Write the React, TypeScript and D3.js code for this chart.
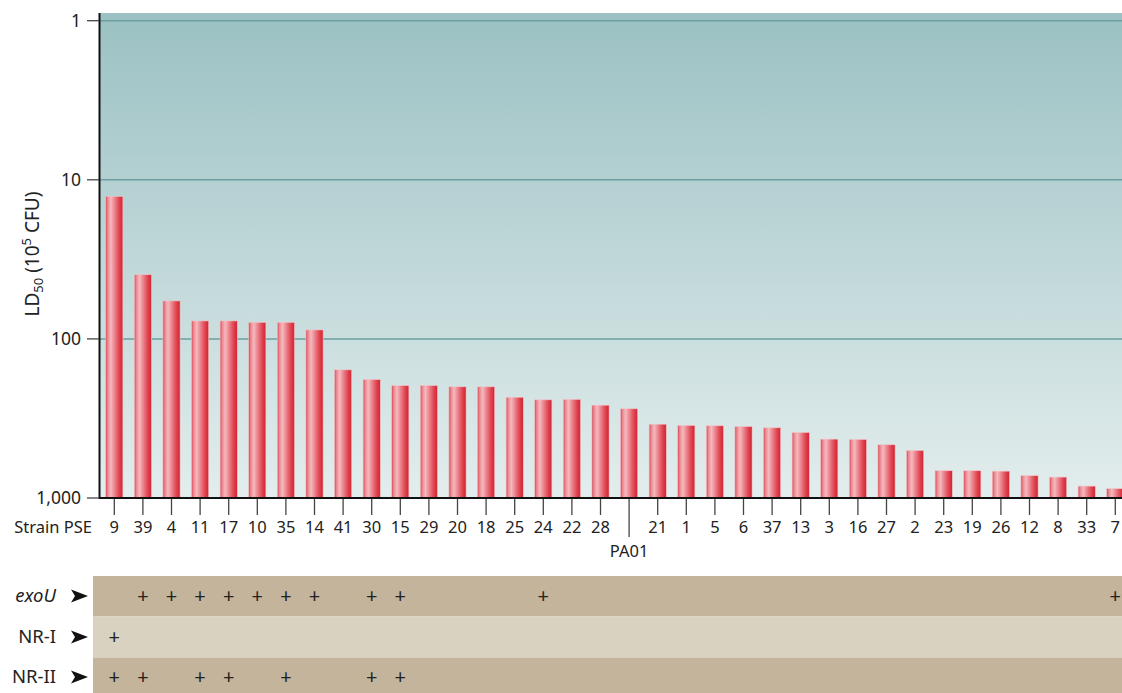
import React from "react";
import * as d3 from "d3";

const strains = ["9","39","4","11","17","10","35","14","41","30","15","29","20","18","25","24","22","28","PA01","21","1","5","6","37","13","3","16","27","2","23","19","26","12","8","33","7"];
const ld50 = [12.7,39.5,57.7,77.1,77.1,78.7,78.7,87.8,156.5,180,196.5,196.5,200,200,232.6,241.6,240,261,275,343.6,350,351.7,355.5,362,387.5,426.6,428.6,462.8,502.7,674,674,678,724,739,842,874];
const yTicks = [1, 10, 100, 1000];
const yTickLabels = ["1", "10", "100", "1,000"];
const exoU = ["39","4","11","17","10","35","14","30","15","24","7"];
const nrI = ["9"];
const nrII = ["9","39","11","17","35","30","15"];
const rowLabels = ["exoU", "NR-I", "NR-II"];
const rowMembers = [exoU, nrI, nrII];

const W = 1122, H = 693;
const FONT = "'Noto Sans', 'Open Sans', sans-serif";

export default function App() {
  const left = 100, baseY = 498, topY = 13;
  const x = d3.scaleBand<string>().domain(strains).range([left, left + 36 * 28.6]).paddingInner(0.4).paddingOuter(0.2);
  const y = d3.scaleLog().domain([1, 1000]).range([20.7, baseY]);
  const bw = x.bandwidth();
  const cx = (s: string) => (x(s) as number) + bw / 2;

  const rows = [
    { y0: 576, y1: 616.5, fill: "#c3b49b" },
    { y0: 616.5, y1: 657.5, fill: "#d9d2c0" },
    { y0: 657.5, y1: 693, fill: "#c3b49b" },
  ];
  const rowMid = [596, 637, 677];

  return (
    <svg width={W} height={H} style={{ position: "absolute", left: 0, top: 0, background: "#fff" }} fontFamily={FONT}>
      <defs>
        <linearGradient id="bg" x1="0" y1="0" x2="0" y2="1">
          <stop offset="0%" stopColor="#9bc1c3" />
          <stop offset="100%" stopColor="#e3eded" />
        </linearGradient>
        <linearGradient id="bar" x1="0" y1="0" x2="1" y2="0">
          <stop offset="0%" stopColor="#dc4451" />
          <stop offset="12%" stopColor="#ea8891" />
          <stop offset="30%" stopColor="#f5b9be" />
          <stop offset="50%" stopColor="#ec8790" />
          <stop offset="78%" stopColor="#df4552" />
          <stop offset="100%" stopColor="#d3222f" />
        </linearGradient>
      </defs>
      <rect x={left} y={topY} width={W - left} height={baseY - topY} fill="url(#bg)" />
      {yTicks.slice(0, 3).map((t) => (
        <line key={t} x1={left} x2={W} y1={y(t)} y2={y(t)} stroke="#6c9fa1" strokeWidth={1.5} />
      ))}
      {strains.map((s, i) => (
        <rect key={s} x={x(s) as number} y={y(ld50[i])} width={bw} height={baseY - y(ld50[i])}
          fill="url(#bar)" stroke="#f0c4c7" strokeWidth={0.6} />
      ))}
      <line x1={left - 0.5} x2={left - 0.5} y1={topY} y2={baseY + 1} stroke="#111" strokeWidth={2} />
      <line x1={left - 1} x2={W} y1={baseY} y2={baseY} stroke="#111" strokeWidth={2} />
      {yTicks.map((t, i) => (
        <g key={t}>
          <line x1={87} x2={left - 1} y1={y(t)} y2={y(t)} stroke="#444" strokeWidth={1.3} />
          <text x={81} y={y(t)} dy="0.35em" textAnchor="end" fontSize={17.5} fill="#222">{yTickLabels[i]}</text>
        </g>
      ))}
      <text transform={`translate(39,254) rotate(-90)`} textAnchor="middle" fontSize={19} fill="#222">
        LD<tspan fontSize={13} dy={4}>50</tspan><tspan dy={-4}> (10</tspan><tspan fontSize={13} dy={-8}>5</tspan><tspan dy={8}> CFU)</tspan>
      </text>
      {strains.map((s) => (
        <g key={s}>
          <line x1={cx(s)} x2={cx(s)} y1={499} y2={s === "PA01" ? 537 : 515} stroke="#444" strokeWidth={1.3} />
          <text x={cx(s)} y={s === "PA01" ? 557 : 533} textAnchor="middle" fontSize={16.5} fill="#222">{s}</text>
        </g>
      ))}
      <text x={92} y={533} textAnchor="end" fontSize={16.5} fill="#222">Strain PSE</text>
      {rows.map((r, i) => (
        <g key={i}>
          <rect x={93} y={r.y0} width={W - 93} height={r.y1 - r.y0} fill={r.fill} />
          <text x={56} y={rowMid[i]} dy="0.35em" textAnchor="end" fontSize={18.5}
            fontStyle={i === 0 ? "italic" : "normal"} fill="#222">{rowLabels[i]}</text>
          <path d={`M71,${rowMid[i] - 6.5} L88,${rowMid[i]} L71,${rowMid[i] + 6.5} L75,${rowMid[i]} Z`} fill="#111" />
          {rowMembers[i].map((s) => (
            <text key={s} x={cx(s)} y={rowMid[i]} dy="0.35em" textAnchor="middle" fontSize={20} fill="#222">+</text>
          ))}
        </g>
      ))}
    </svg>
  );
}
